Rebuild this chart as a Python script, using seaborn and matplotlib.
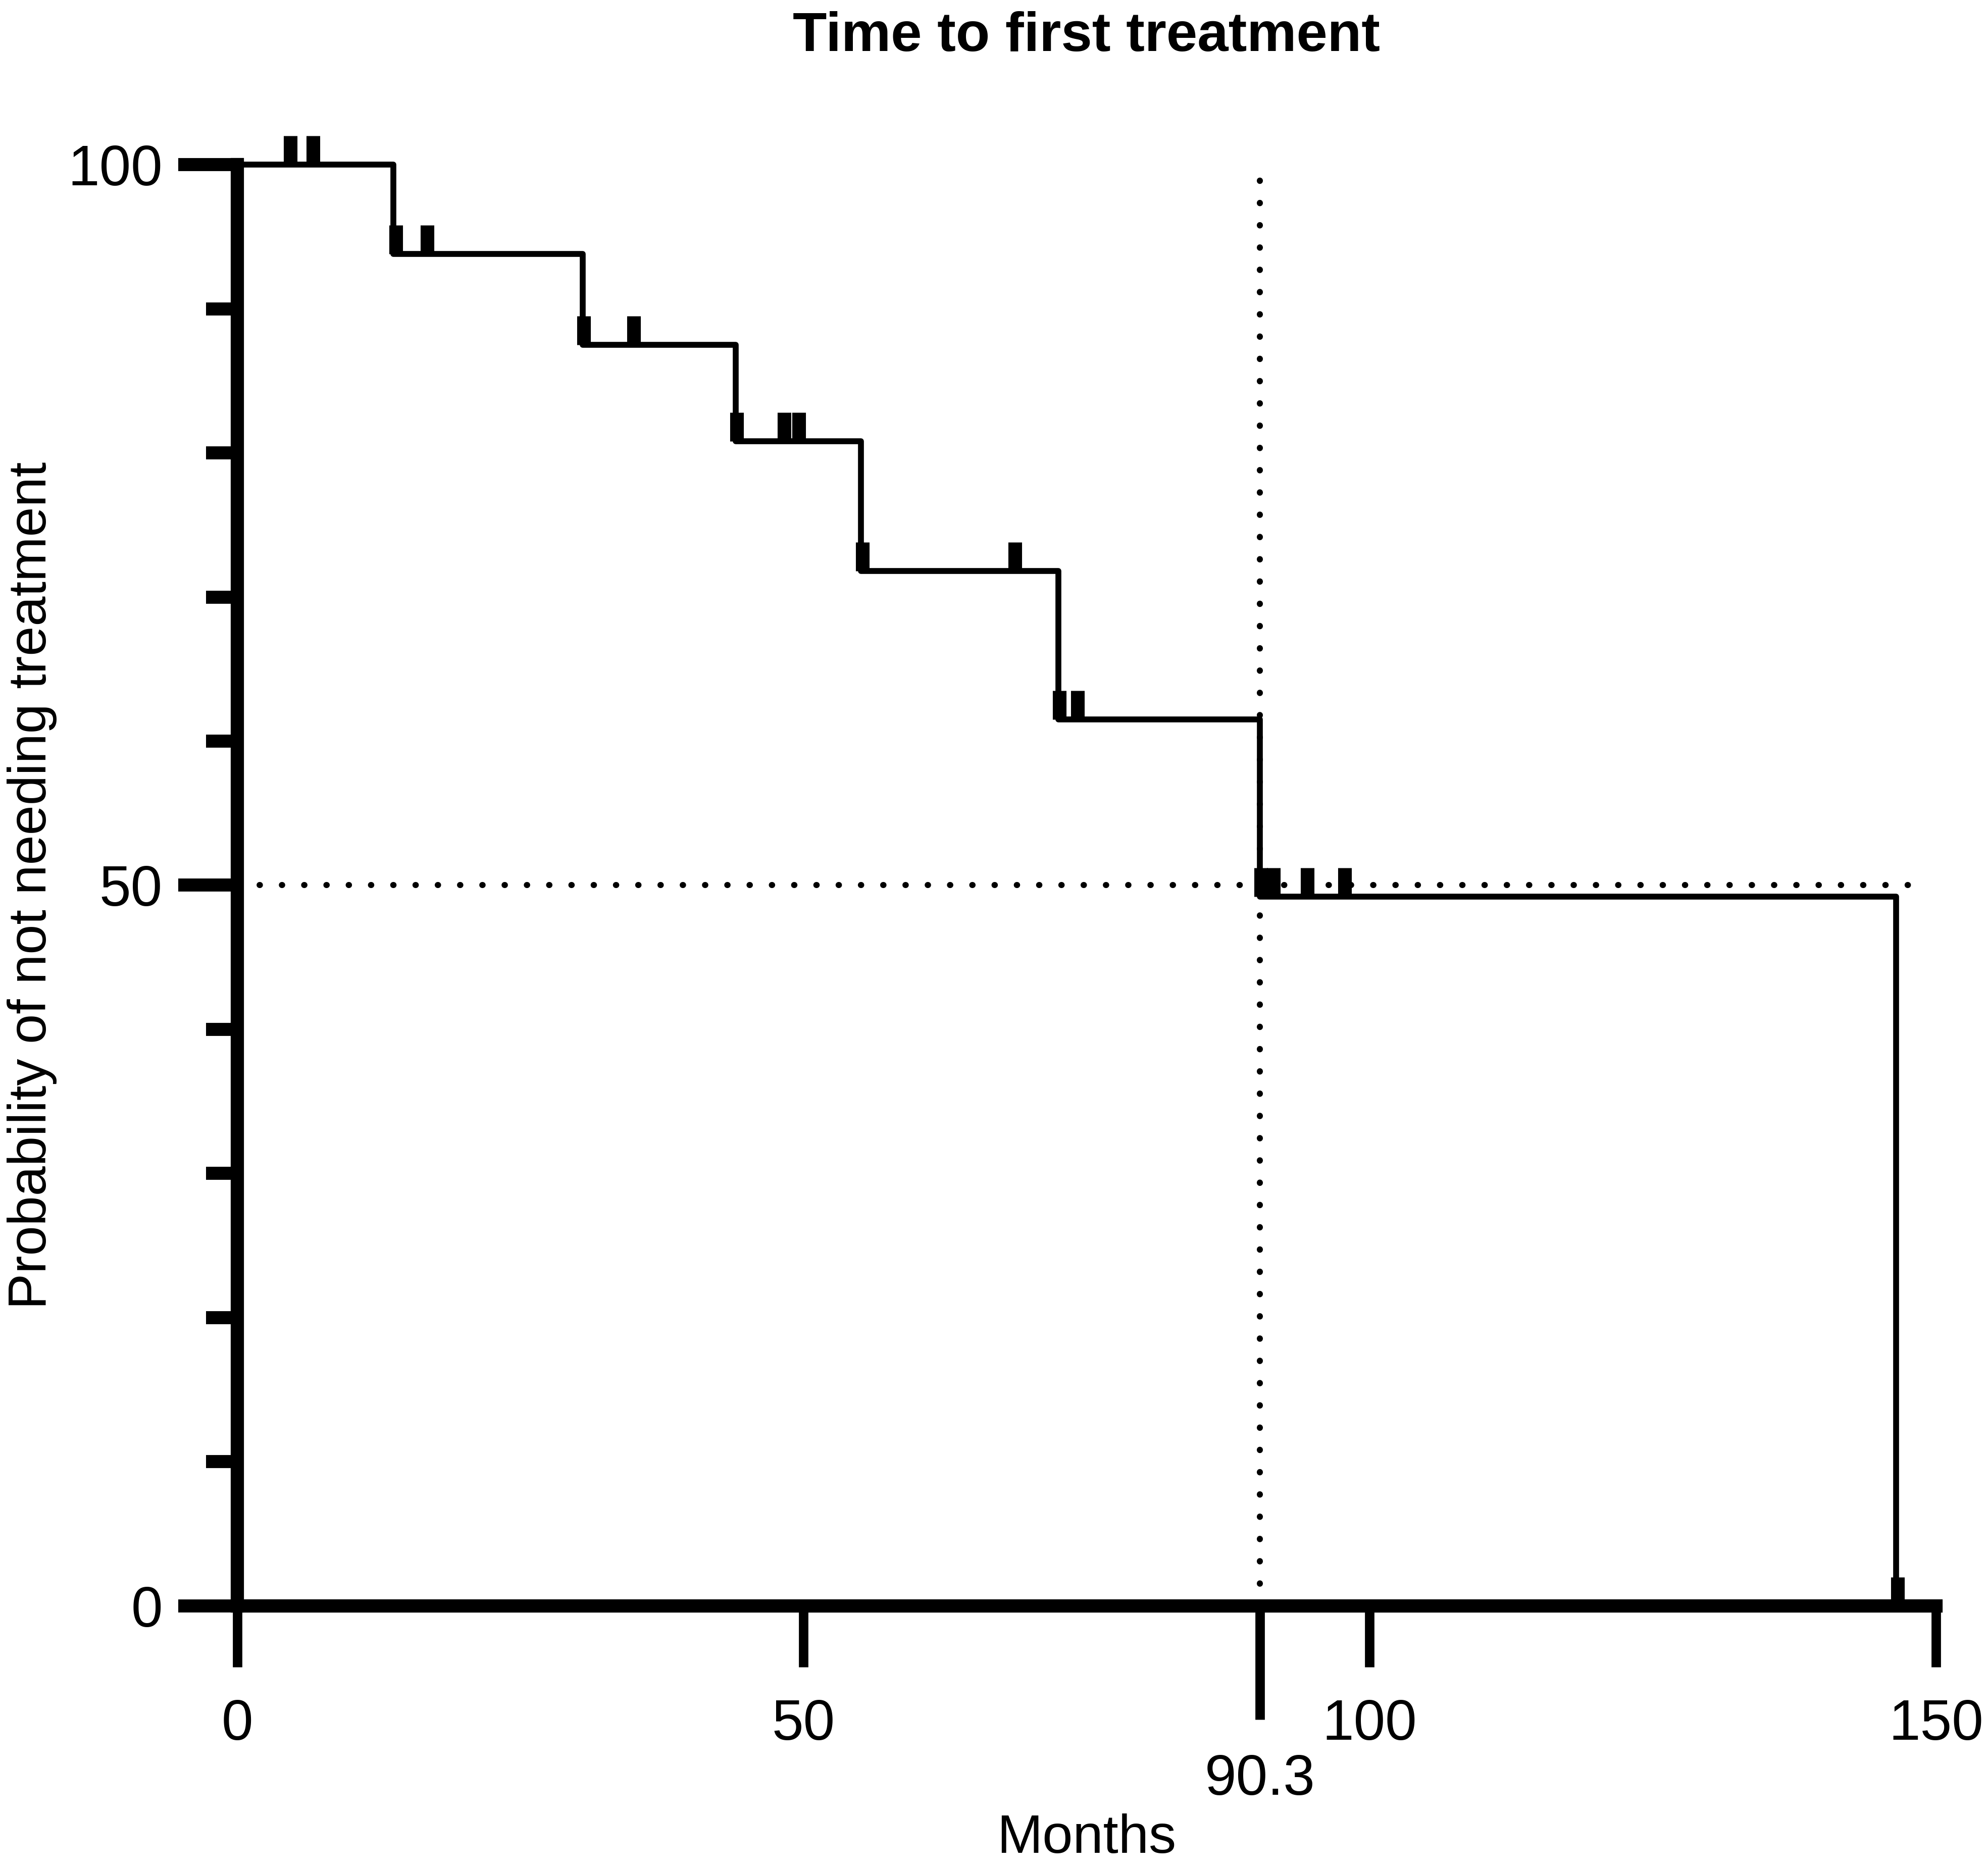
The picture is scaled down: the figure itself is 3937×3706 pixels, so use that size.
import numpy as np
import pandas as pd
import matplotlib
matplotlib.use("Agg")
import matplotlib.pyplot as plt
import seaborn as sns

# ---- data ----
step_months = [0, 13.8, 30.5, 44.0, 55.1, 72.5, 90.3, 146.5]
step_survival = [100, 93.8, 87.5, 80.8, 71.8, 61.5, 49.2, 0]
censor_months = [4.7, 6.7, 14.0, 16.8, 30.6, 35.0, 44.1, 48.3, 49.6,
                 55.2, 68.7, 72.6, 74.2, 90.4, 91.5, 94.5, 97.8, 146.6]
censor_survival = [100, 100, 93.8, 93.8, 87.5, 87.5, 80.8, 80.8, 80.8,
                   71.8, 71.8, 61.5, 61.5, 49.2, 49.2, 49.2, 49.2, 0]
median_months = 90.3
median_prob = 50
x_major = [0, 50, 100, 150]
y_major = [0, 50, 100]
y_minor = [10, 20, 30, 40, 60, 70, 80, 90]
title = "Time to first treatment"
xlabel = "Months"
ylabel = "Probability of not needing treatment"

sns.set_theme(style="ticks")
plt.rcParams["font.family"] = ["Liberation Sans", "DejaVu Sans"]

fig = plt.figure(figsize=(3937 / 300, 3706 / 300), dpi=300)
ax = fig.add_axes([0.1193, 0.1417, 0.9738 - 0.1193, 0.912 - 0.1417])

df = pd.DataFrame({"Months": step_months, "Survival": step_survival})

# median reference lines
ax.axhline(median_prob, xmin=0, xmax=149 / 150, color="black", lw=2.9,
           linestyle=(0, (0.05, 3.6)), dash_capstyle="round", clip_on=False, zorder=1)
ax.axvline(median_months, ymin=0, ymax=1, color="black", lw=2.9,
           linestyle=(0, (0.05, 3.6)), dash_capstyle="round", clip_on=False, zorder=1)

sns.lineplot(data=df, x="Months", y="Survival", drawstyle="steps-post",
             estimator=None, sort=False, color="black", lw=2.8, ax=ax,
             clip_on=False, zorder=3)

ax.vlines(censor_months, censor_survival, np.array(censor_survival) + 2.0,
          colors="black", linewidth=6.5, clip_on=False, zorder=3)

ax.set_xlim(0, 150)
ax.set_ylim(0, 100)

sns.despine(ax=ax)
for s in ("left", "bottom"):
    ax.spines[s].set_linewidth(6.3)
    ax.spines[s].set_color("black")

ax.set_xticks(x_major)
ax.set_xticklabels([str(v) for v in x_major])
ax.set_xticks([median_months], minor=True)
ax.set_xticklabels([str(median_months)], minor=True)
ax.set_yticks(y_major)
ax.set_yticklabels([str(v) for v in y_major])
ax.set_yticks(y_minor, minor=True)

ax.tick_params(axis="x", which="major", length=29, width=4.5, pad=15,
               labelsize=27, color="black", labelcolor="black")
ax.tick_params(axis="x", which="minor", length=54, width=4.5, pad=16,
               labelsize=27, color="black", labelcolor="black")
ax.tick_params(axis="y", which="major", length=28, width=6.2, pad=7.5,
               labelsize=27, color="black", labelcolor="black")
ax.tick_params(axis="y", which="minor", length=15, width=6.2,
               color="black")

ax.set_xlabel(xlabel, fontsize=26, color="black")
ax.xaxis.set_label_coords(0.5, -0.144)
ax.xaxis.label.set_va("top")
ax.set_ylabel(ylabel, fontsize=25.5, color="black")
ax.yaxis.set_label_coords(-0.106, 0.5)

ax.set_title(title, fontsize=26.5, fontweight="bold", color="black", y=1.079, pad=0)

ax.set_facecolor("white")
fig.patch.set_facecolor("white")
fig.savefig("out.png", dpi=300)
